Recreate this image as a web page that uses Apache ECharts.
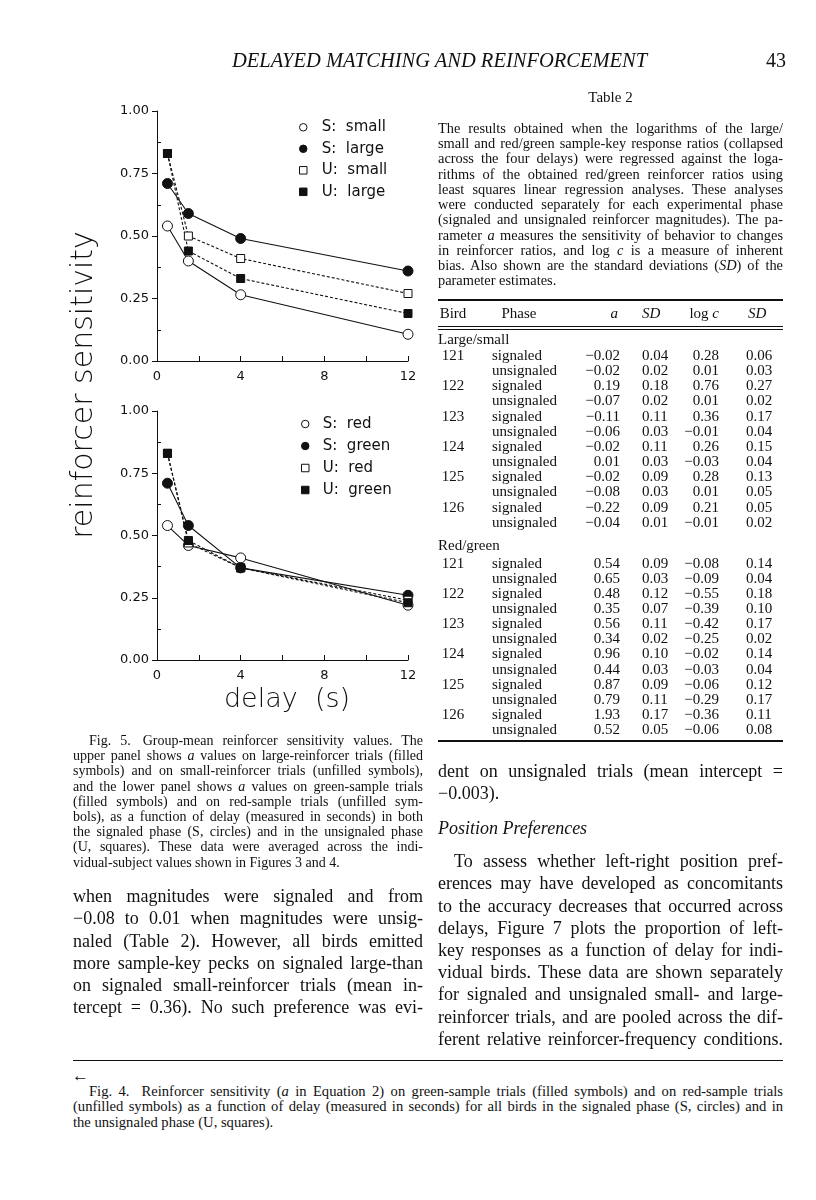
<!DOCTYPE html>
<html>
<head>
<meta charset="utf-8">
<script src="https://cdn.jsdelivr.net/npm/echarts@6/dist/echarts.min.js"></script>
<style>
  html, body { margin: 0; padding: 0; background: #fff; }
  #page { position: relative; width: 816px; height: 1200px; overflow: hidden;
          font-family: 'Liberation Serif', 'Times New Roman', serif; color: #111; }
  .ln { position: absolute; white-space: nowrap; }
  .rule { position: absolute; background: #111; }
  #chart { position: absolute; left: 0; top: 0; width: 440px; height: 730px; }
</style>
</head>
<body>
<div id="page"><div id="chart"></div></div>
<script>
// ---- figure data ----
var delays = [0.5, 1.5, 4, 12];
// upper panel: large / small
var sSmall = [0.54, 0.40, 0.265, 0.107];
var sLarge = [0.71, 0.59, 0.49, 0.36];
var uSmall = [0.83, 0.50, 0.41, 0.27];
var uLarge = [0.83, 0.44, 0.33, 0.19];
// lower panel: red / green
var sRed   = [0.54, 0.46, 0.41, 0.22];
var sGreen = [0.71, 0.54, 0.37, 0.26];
var uRed   = [0.83, 0.47, 0.37, 0.24];
var uGreen = [0.83, 0.48, 0.37, 0.23];

// ---- table 2 ----
var birds = ['121', '122', '123', '124', '125', '126'];
var lsA   = ['−0.02','−0.02','0.19','−0.07','−0.11','−0.06','−0.02','0.01','−0.02','−0.08','−0.22','−0.04'];
var lsSD  = ['0.04','0.02','0.18','0.02','0.11','0.03','0.11','0.03','0.09','0.03','0.09','0.01'];
var lsC   = ['0.28','0.01','0.76','0.01','0.36','−0.01','0.26','−0.03','0.28','0.01','0.21','−0.01'];
var lsSD2 = ['0.06','0.03','0.27','0.02','0.17','0.04','0.15','0.04','0.13','0.05','0.05','0.02'];
var rgA   = ['0.54','0.65','0.48','0.35','0.56','0.34','0.96','0.44','0.87','0.79','1.93','0.52'];
var rgSD  = ['0.09','0.03','0.12','0.07','0.11','0.02','0.10','0.03','0.09','0.11','0.17','0.05'];
var rgC   = ['−0.08','−0.09','−0.55','−0.39','−0.42','−0.25','−0.02','−0.03','−0.06','−0.29','−0.36','−0.06'];
var rgSD2 = ['0.14','0.04','0.18','0.10','0.17','0.02','0.14','0.04','0.12','0.17','0.11','0.08'];

// ---- page text ----
var tableCaption = [
  'The results obtained when the logarithms of the large/',
  'small and red/green sample-key response ratios (collapsed',
  'across the four delays) were regressed against the loga-',
  'rithms of the obtained red/green reinforcer ratios using',
  'least squares linear regression analyses. These analyses',
  'were conducted separately for each experimental phase',
  '(signaled and unsignaled reinforcer magnitudes). The pa-',
  'rameter <i>a</i> measures the sensitivity of behavior to changes',
  'in reinforcer ratios, and log <i>c</i> is a measure of inherent',
  'bias. Also shown are the standard deviations (<i>SD</i>) of the',
  'parameter estimates.'
];
var gap = '<span style="display:inline-block;width:12px"></span>';
var fig5Caption = [
  'Fig. 5.' + gap + 'Group-mean reinforcer sensitivity values. The',
  'upper panel shows <i>a</i> values on large-reinforcer trials (filled',
  'symbols) and on small-reinforcer trials (unfilled symbols),',
  'and the lower panel shows <i>a</i> values on green-sample trials',
  '(filled symbols) and on red-sample trials (unfilled sym-',
  'bols), as a function of delay (measured in seconds) in both',
  'the signaled phase (S, circles) and in the unsignaled phase',
  '(U, squares). These data were averaged across the indi-',
  'vidual-subject values shown in Figures 3 and 4.'
];
var leftBody = [
  'when magnitudes were signaled and from',
  '−0.08 to 0.01 when magnitudes were unsig-',
  'naled (Table 2). However, all birds emitted',
  'more sample-key pecks on signaled large-than',
  'on signaled small-reinforcer trials (mean in-',
  'tercept = 0.36). No such preference was evi-'
];
var rightBody1 = [
  'dent on unsignaled trials (mean intercept =',
  '−0.003).'
];
var rightBody2 = [
  'To assess whether left-right position pref-',
  'erences may have developed as concomitants',
  'to the accuracy decreases that occurred across',
  'delays, Figure 7 plots the proportion of left-',
  'key responses as a function of delay for indi-',
  'vidual birds. These data are shown separately',
  'for signaled and unsignaled small- and large-',
  'reinforcer trials, and are pooled across the dif-',
  'ferent relative reinforcer-frequency conditions.'
];
var fig4Caption = [
  'Fig. 4.' + gap + 'Reinforcer sensitivity (<i>a</i> in Equation 2) on green-sample trials (filled symbols) and on red-sample trials',
  '(unfilled symbols) as a function of delay (measured in seconds) for all birds in the signaled phase (S, circles) and in',
  'the unsignaled phase (U, squares).'
];

var page = document.getElementById('page');

function put(html, css) {
  var d = document.createElement('div');
  d.className = 'ln';
  d.style.cssText = css;
  d.innerHTML = html;
  page.appendChild(d);
  return d;
}
function rule(x, y, w, h) {
  var d = document.createElement('div');
  d.className = 'rule';
  d.style.cssText = 'left:' + x + 'px;top:' + y + 'px;width:' + w + 'px;height:' + h + 'px;';
  page.appendChild(d);
}
// justified lines, one div per printed line so the breaks match the page
function lines(arr, o) {
  arr.forEach(function (t, i) {
    var top = o.y + i * o.lh - o.lh / 2 - 0.1 * o.fs;
    var d = put('', 'left:' + o.x + 'px;top:' + top + 'px;width:' + o.w + 'px;font-size:' + o.fs +
      'px;line-height:' + o.lh + 'px;' + (o.style || ''));
    var s = document.createElement('span');
    s.innerHTML = t;
    var ind = (i === 0 && o.indent) ? o.indent : 0;
    if (ind) s.style.marginLeft = ind + 'px';
    d.appendChild(s);
    if (!(o.lastFree && i === arr.length - 1)) {
      var n = (s.textContent.match(/ /g) || []).length;
      var nat = s.getBoundingClientRect().width;
      if (n) s.style.wordSpacing = ((o.w - ind - nat) / n) + 'px';
    }
  });
}
function cell(txt, x, y, align, fs) {
  fs = fs || 15;
  var top = y - 8 - 0.1 * fs;
  if (align === 'r') return put(txt, 'right:' + (816 - x) + 'px;top:' + top + 'px;font-size:' + fs + 'px;line-height:16px;');
  if (align === 'c') return put(txt, 'left:' + (x - 40) + 'px;width:80px;text-align:center;top:' + top + 'px;font-size:' + fs + 'px;line-height:16px;');
  return put(txt, 'left:' + x + 'px;top:' + top + 'px;font-size:' + fs + 'px;line-height:16px;');
}

// running head
put('DELAYED MATCHING AND REINFORCEMENT', 'left:232px;width:400px;text-align:center;top:48px;font-size:20.5px;line-height:24px;font-style:italic;');
put('43', 'right:30px;top:48px;font-size:20px;line-height:24px;');

// table 2
put('Table 2', 'left:438px;width:345px;text-align:center;top:88px;font-size:15px;line-height:18px;');
lines(tableCaption, { x: 438, y: 130, w: 345, fs: 14.4, lh: 15.25, lastFree: true });
rule(438, 299, 345, 1.5);
var tx = { bird: 453, phase: 492, aR: 620, sdL: 642, lcR: 719, sd2L: 746 };
cell('Bird', tx.bird, 314, 'c');
cell('Phase', 519, 314, 'c');
cell('<i>a</i>', tx.aR - 2, 314, 'r');
cell('<i>SD</i>', tx.sdL, 314, 'l');
cell('log <i>c</i>', tx.lcR, 314, 'r');
cell('<i>SD</i>', tx.sd2L + 2, 314, 'l');
rule(438, 325.5, 345, 1);
rule(438, 328.5, 345, 1);
function section(label, yl, y0, a, sd, c, sd2) {
  cell(label, 438, yl, 'l');
  for (var i = 0; i < 12; i++) {
    var y = y0 + i * 15.15;
    if (i % 2 === 0) cell(birds[i / 2], tx.bird, y, 'c');
    cell(i % 2 === 0 ? 'signaled' : 'unsignaled', tx.phase, y, 'l');
    cell(a[i], tx.aR, y, 'r');
    cell(sd[i], tx.sdL, y, 'l');
    cell(c[i], tx.lcR, y, 'r');
    cell(sd2[i], tx.sd2L, y, 'l');
  }
}
section('Large/small', 340, 356.5, lsA, lsSD, lsC, lsSD2);
section('Red/green', 546, 564, rgA, rgSD, rgC, rgSD2);
rule(438, 740, 345, 1.5);

// figure caption and body text
lines(fig5Caption, { x: 73, y: 742, w: 350, fs: 14, lh: 15.2, indent: 16, lastFree: true });
lines(leftBody, { x: 73, y: 898, w: 350, fs: 18, lh: 22.2 });
lines(rightBody1, { x: 438, y: 773, w: 345, fs: 18, lh: 22.2, lastFree: true });
put('<i>Position Preferences</i>', 'left:438px;top:' + (830 - 11 - 1.8) + 'px;font-size:18px;line-height:22px;');
lines(rightBody2, { x: 438, y: 863, w: 345, fs: 18, lh: 22.2, indent: 16 });
rule(73, 1060, 710, 1);
put('&larr;', 'left:72px;top:1066px;font-size:17px;line-height:20px;');
lines(fig4Caption, { x: 73, y: 1093, w: 710, fs: 14.6, lh: 15.8, indent: 16, lastFree: true });

// ---- chart ----
var axisFont = 'DejaVu Sans';
var ink = '#111';
var squareIcon = 'path://M0,0L10,0L10,10L0,10Z';
function xAx(g) {
  return {
    gridIndex: g, type: 'value', min: 0, max: 12, interval: 4,
    axisLine: { lineStyle: { color: ink, width: 1 } },
    axisTick: { inside: true, length: 5, lineStyle: { color: ink, width: 1 } },
    minorTick: { show: true, splitNumber: 2, length: 5, lineStyle: { color: ink, width: 1 } },
    axisLabel: { color: ink, fontFamily: axisFont, fontSize: 13, margin: 9 },
    splitLine: { show: false }, minorSplitLine: { show: false }
  };
}
function yAx(g) {
  return {
    gridIndex: g, type: 'value', position: 'left', min: 0, max: 1, interval: 0.25,
    axisLine: { show: true, lineStyle: { color: ink, width: 1 } },
    axisTick: { show: true, length: 5, lineStyle: { color: ink, width: 1 } },
    axisLabel: { color: ink, fontFamily: axisFont, fontSize: 13, margin: 8,
      formatter: function (v) { return v.toFixed(2); } },
    splitLine: { show: false }
  };
}
// second axis on each grid only for the inward minor ticks
function yMinor(g) {
  return {
    gridIndex: g, type: 'value', position: 'left', min: 0, max: 1, interval: 0.25,
    axisLine: { show: false }, axisTick: { show: false, inside: true }, axisLabel: { show: false },
    splitLine: { show: false },
    minorTick: { show: true, splitNumber: 2, length: 4, lineStyle: { color: ink, width: 1 } }
  };
}
function mk(name, ys, g, filled, sym, dashed) {
  return {
    name: name, type: 'line', xAxisIndex: g, yAxisIndex: g, silent: true,
    data: delays.map(function (d, k) { return [d, ys[k]]; }),
    symbol: sym, symbolSize: sym === 'circle' ? 10 : 8,
    lineStyle: { color: ink, width: 1.1, type: dashed ? [3, 2] : 'solid' },
    itemStyle: { color: filled ? ink : '#fff', borderColor: ink, borderWidth: 1 },
    emphasis: { disabled: true }
  };
}
function li(name, icon, filled) {
  return { name: name, icon: icon, itemStyle: { color: filled ? ink : '#fff', borderColor: ink, borderWidth: 1 } };
}
var legText = { color: ink, fontFamily: axisFont, fontSize: 15, lineHeight: 16 };
function legFmt(n) { return n.replace(': ', ':  '); }

var chart = echarts.init(document.getElementById('chart'));
chart.setOption({
  animation: false,
  grid: [
    { left: 157, top: 111, width: 251, height: 250 },
    { left: 157, top: 411, width: 251, height: 249 }
  ],
  xAxis: [xAx(0), xAx(1)],
  yAxis: [yAx(0), yAx(1), yMinor(0), yMinor(1)],
  legend: [
    { data: [li('S: small', 'circle', false), li('S: large', 'circle', true), li('U: small', squareIcon, false), li('U: large', squareIcon, true)],
      orient: 'vertical', left: 299, top: 119.3, itemWidth: 27, itemHeight: 7.5, itemGap: 5.5, padding: 0,
      selectedMode: false, textStyle: legText, formatter: legFmt },
    { data: [li('S: red', 'circle', false), li('S: green', 'circle', true), li('U: red', squareIcon, false), li('U: green', squareIcon, true)],
      orient: 'vertical', left: 301, top: 416, itemWidth: 25, itemHeight: 7.5, itemGap: 6, padding: 0,
      selectedMode: false, textStyle: legText, formatter: legFmt }
  ],
  graphic: [
    { type: 'text', x: 84, y: 385, rotation: Math.PI / 2,
      style: { text: 'reinforcer sensitivity', fontFamily: axisFont, fontWeight: 200, fontSize: 30, fill: ink, align: 'center', verticalAlign: 'middle' } },
    { type: 'text', x: 287, y: 700,
      style: { text: 'delay  (s)', fontFamily: axisFont, fontWeight: 200, fontSize: 27, fill: ink, align: 'center', verticalAlign: 'middle' } }
  ],
  series: [
    mk('S: small', sSmall, 0, false, 'circle', false),
    mk('S: large', sLarge, 0, true, 'circle', false),
    mk('U: small', uSmall, 0, false, 'rect', true),
    mk('U: large', uLarge, 0, true, 'rect', true),
    mk('S: red', sRed, 1, false, 'circle', false),
    mk('S: green', sGreen, 1, true, 'circle', false),
    mk('U: red', uRed, 1, false, 'rect', true),
    mk('U: green', uGreen, 1, true, 'rect', true)
  ]
});
</script>
</body>
</html>
